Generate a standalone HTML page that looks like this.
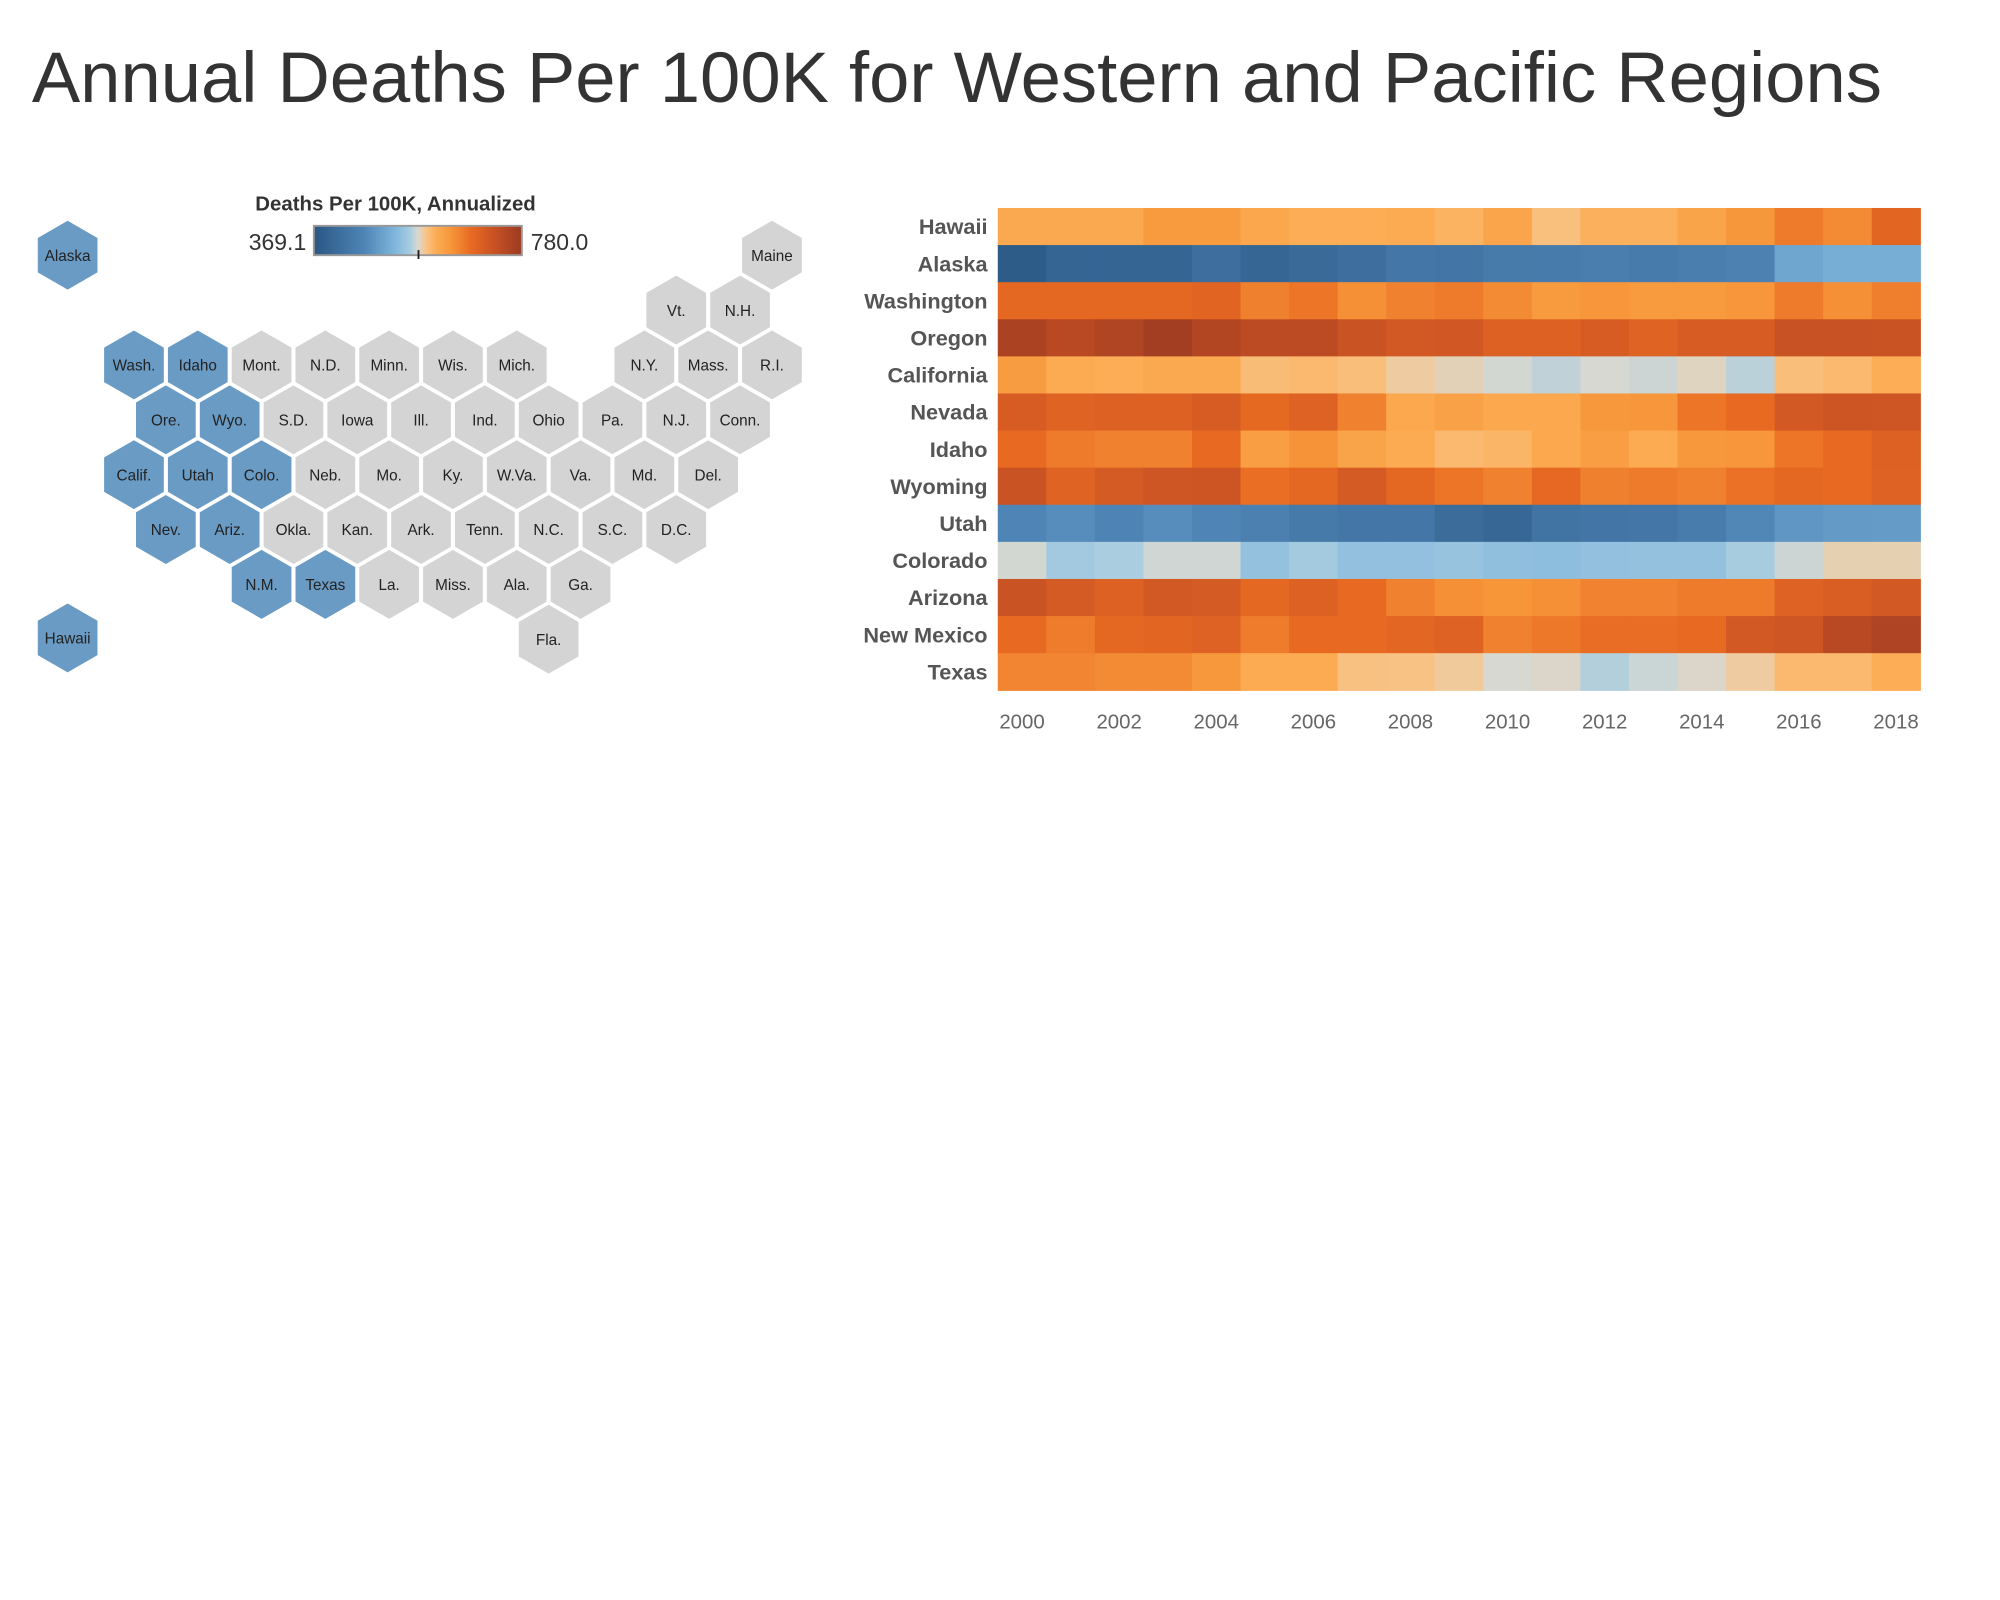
<!DOCTYPE html>
<html><head><meta charset="utf-8"><style>
html,body{margin:0;padding:0;background:#fff;width:2000px;height:1600px;overflow:hidden}
svg{display:block}
</style></head><body>
<svg id="root" width="2000" height="1600" viewBox="0 0 1567 1254" preserveAspectRatio="xMinYMin meet" xmlns="http://www.w3.org/2000/svg" font-family="'Liberation Sans', sans-serif">
<text x="25" y="80" font-size="56" fill="#333" textLength="1450" lengthAdjust="spacingAndGlyphs">Annual Deaths Per 100K for Western and Pacific Regions</text>
<g id="hexmap"></g>
<g id="legend">
<defs><linearGradient id="lg" x1="0" x2="1" y1="0" y2="0"></linearGradient></defs>
<text x="310" y="165" font-size="16" font-weight="bold" fill="#333" text-anchor="middle">Deaths Per 100K, Annualized</text>
<text id="legMin" x="240" y="196" font-size="18" fill="#333" text-anchor="end"></text>
<rect x="246" y="177" width="163" height="23" fill="url(#lg)" stroke="#999" stroke-width="1.5"/>
<line x1="328" x2="328" y1="196" y2="203" stroke="#222" stroke-width="1.5"/>
<text id="legMax" x="416" y="196" font-size="18" fill="#333"></text>
</g>
<g id="heat"></g>
</svg>
<script>
const years = [2000,2001,2002,2003,2004,2005,2006,2007,2008,2009,2010,2011,2012,2013,2014,2015,2016,2017,2018];
const yearTicks = [2000,2002,2004,2006,2008,2010,2012,2014,2016,2018];
const states = ["Hawaii","Alaska","Washington","Oregon","California","Nevada","Idaho","Wyoming","Utah","Colorado","Arizona","New Mexico","Texas"];
const hawaii = [615,615,615,635,635,618,610,610,612,605,620,595,607,607,622,638,665,650,688];
const alaska = [380,400,400,400,420,402,410,420,440,438,447,448,455,448,455,462,510,520,520];
const washington = [685,685,685,685,690,660,670,645,658,665,650,635,640,635,635,640,665,645,662];
const oregon = [760,745,755,770,752,740,740,722,712,713,697,697,706,692,706,706,725,725,722];
const california = [632,612,610,615,615,597,600,596,585,580,573,567,574,571,578,565,596,600,610];
const nevada = [706,692,697,697,706,682,694,658,617,625,617,617,637,640,670,680,710,718,717];
const idaho = [680,665,658,658,680,630,643,622,612,600,603,617,630,612,637,640,670,680,697];
const wyoming = [722,692,708,717,718,675,685,708,685,670,658,683,660,665,658,673,685,680,694];
const utah = [470,480,468,480,470,458,445,440,440,415,405,432,438,440,450,472,490,495,497];
const colorado = [573,555,560,572,572,545,556,543,543,547,542,540,543,545,545,558,571,581,581];
const arizona = [722,708,697,712,708,685,697,680,658,645,641,645,657,657,665,665,694,702,712];
const newMexico = [680,663,684,688,694,663,680,680,687,694,658,667,677,677,680,710,717,745,757];
const texas = [655,655,650,650,637,612,612,593,592,586,574,576,563,570,576,585,600,600,610];
const series = [hawaii,alaska,washington,oregon,california,nevada,idaho,wyoming,utah,colorado,arizona,newMexico,texas];
const legendMin = 369.1, legendMax = 780.0;

const NS = "http://www.w3.org/2000/svg";
function mk(tag, attrs, parent){const e=document.createElementNS(NS,tag);for(const k in attrs)e.setAttribute(k,attrs[k]);parent.appendChild(e);return e;}

const stops=[[0,"#2a5783"],[0.245,"#4f85b6"],[0.391,"#7fb6dc"],[0.464,"#a9cde0"],[0.5,"#d8d8d0"],[0.537,"#f8c58a"],[0.586,"#fcad55"],[0.659,"#f7963a"],[0.756,"#e86a22"],[0.854,"#cc5424"],[1,"#9b3a22"]];
function hex2rgb(h){return [parseInt(h.slice(1,3),16),parseInt(h.slice(3,5),16),parseInt(h.slice(5,7),16)];}
function color(v){let t=(v-legendMin)/(legendMax-legendMin);t=Math.max(0,Math.min(1,t));
 for(let i=1;i<stops.length;i++){if(t<=stops[i][0]){const a=stops[i-1],b=stops[i];const f=(t-a[0])/(b[0]-a[0]);const ca=hex2rgb(a[1]),cb=hex2rgb(b[1]);
 return "rgb("+ca.map((c,j)=>Math.round(c+(cb[j]-c)*f)).join(",")+")";}}return stops[stops.length-1][1];}
const grad=document.getElementById('lg');
stops.forEach(s=>mk('stop',{offset:s[0],'stop-color':s[1]},grad));
document.getElementById('legMin').textContent=legendMin.toFixed(1);
document.getElementById('legMax').textContent=legendMax.toFixed(1);

const X0=782,X1=1505,Y0=163,Y1=541;
const cw=(X1-X0)/years.length, rh=(Y1-Y0)/states.length;
const xScale=y=>X0+(years.indexOf(y))*cw;
const yScale=s=>Y0+states.indexOf(s)*rh;
const heat=document.getElementById('heat');
states.forEach((s,ri)=>{
 series[ri].forEach((v,ci)=>{
  const r=mk('rect',{x:xScale(years[ci]),y:yScale(s),width:cw+0.5,height:rh+0.5,fill:color(v)},heat);
  
  
 });
 const t=mk('text',{x:774,y:yScale(s)+rh/2+6,'font-size':17,fill:'#555','text-anchor':'end','font-weight':'bold'},heat);
 t.textContent=s;
 
 
});
yearTicks.forEach(y=>{
 const t=mk('text',{x:xScale(y)+cw/2,y:571,'font-size':16,fill:'#666','text-anchor':'middle'},heat);
 t.textContent=y;
 
 
});

const hexes=[["Alaska",53,200,1],["Hawaii",53,500,1],["Maine",605,200,0],
["Vt.",530,243,0],["N.H.",580,243,0],
["Wash.",105,286,1],["Idaho",155,286,1],["Mont.",205,286,0],["N.D.",255,286,0],["Minn.",305,286,0],["Wis.",355,286,0],["Mich.",405,286,0],["N.Y.",505,286,0],["Mass.",555,286,0],["R.I.",605,286,0],
["Ore.",130,329,1],["Wyo.",180,329,1],["S.D.",230,329,0],["Iowa",280,329,0],["Ill.",330,329,0],["Ind.",380,329,0],["Ohio",430,329,0],["Pa.",480,329,0],["N.J.",530,329,0],["Conn.",580,329,0],
["Calif.",105,372,1],["Utah",155,372,1],["Colo.",205,372,1],["Neb.",255,372,0],["Mo.",305,372,0],["Ky.",355,372,0],["W.Va.",405,372,0],["Va.",455,372,0],["Md.",505,372,0],["Del.",555,372,0],
["Nev.",130,415,1],["Ariz.",180,415,1],["Okla.",230,415,0],["Kan.",280,415,0],["Ark.",330,415,0],["Tenn.",380,415,0],["N.C.",430,415,0],["S.C.",480,415,0],["D.C.",530,415,0],
["N.M.",205,458,1],["Texas",255,458,1],["La.",305,458,0],["Miss.",355,458,0],["Ala.",405,458,0],["Ga.",455,458,0],
["Fla.",430,501,0]];
const hm=document.getElementById('hexmap');
const R=27;
hexes.forEach(h=>{
 const pts=[];for(let k=0;k<6;k++){const a=Math.PI/180*(60*k-90);pts.push((h[1]+R*Math.cos(a)).toFixed(1)+","+(h[2]+R*Math.sin(a)).toFixed(1));}
 const p=mk('polygon',{points:pts.join(" "),fill:h[3]?"#6a9bc4":"#d4d4d4"},hm);
 
 
 const t=mk('text',{x:h[1],y:h[2]+4.5,'font-size':12,fill:'#222','text-anchor':'middle'},hm);
 t.textContent=h[0];
 
 
});
</script>
</body></html>
